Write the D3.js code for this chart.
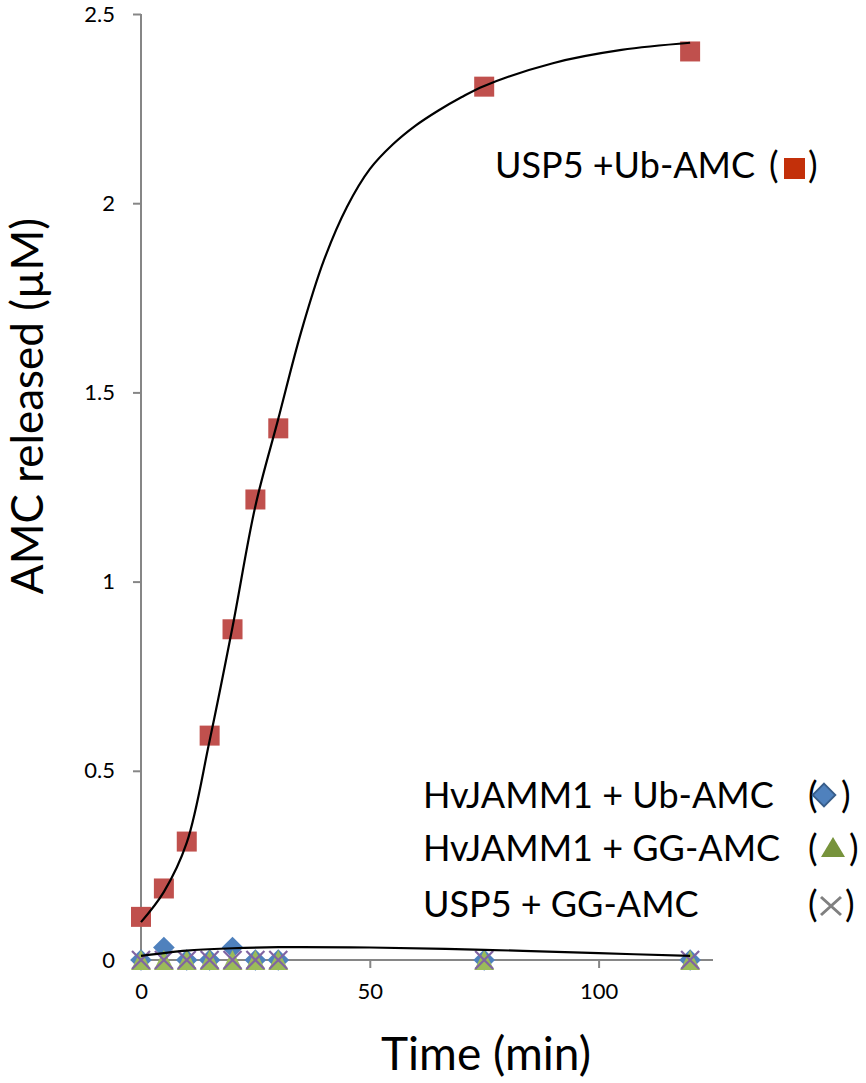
<!DOCTYPE html>
<html><head><meta charset="utf-8">
<script src="https://cdn.jsdelivr.net/npm/d3@7"></script>
<style>body{margin:0;background:#fff;} text{font-family:Lato, "Open Sans", sans-serif;}</style>
</head><body>
<svg id="c" width="866" height="1083"></svg>
<script>
// ---- data ----
const times = [0, 5, 10, 15, 20, 25, 30, 75, 120];
const usp5UbAMC   = [0.114, 0.189, 0.313, 0.593, 0.874, 1.217, 1.405, 2.308, 2.401];
const hvUbAMC     = [0, 0.033, 0, 0, 0.033, 0, 0, 0, 0];
const hvGGAMC     = [0, 0, 0, 0, 0, 0, 0, 0, 0];
const usp5GGAMC   = [0, 0, 0, 0, 0, 0, 0, 0, 0];
// fitted curves
const fitHighT = [0, 5, 10, 15, 20, 25, 30, 35, 40, 45, 50, 55, 60, 65, 70, 75, 90, 105, 120];
const fitHighV = [0.10, 0.18, 0.31, 0.58, 0.88, 1.20, 1.43, 1.66, 1.85, 1.99, 2.09, 2.155, 2.205, 2.245, 2.28, 2.31, 2.37, 2.405, 2.424];
const fitLowT = [0, 10, 20, 30, 50, 75, 100, 120];
const fitLowV = [0.011, 0.025, 0.031, 0.034, 0.033, 0.027, 0.018, 0.011];
const xTicks = [0, 50, 100];
const yTicks = [0, 0.5, 1, 1.5, 2, 2.5];
const yTickLabels = ["0", "0.5", "1", "1.5", "2", "2.5"];
const legendLabels = ["USP5 +Ub-AMC", "HvJAMM1 + Ub-AMC", "HvJAMM1 + GG-AMC", "USP5 + GG-AMC"];

const svg = d3.select("#c");
const x = d3.scaleLinear().domain([0, 125]).range([141, 713]);
const y = d3.scaleLinear().domain([0, 2.5]).range([960, 14]);
const axisCol = "#868686";

// axes
const yAx = svg.append("g").attr("transform", "translate(141,0)")
  .call(d3.axisLeft(y).tickValues(yTicks).tickFormat((d,i)=>yTickLabels[i]).tickSize(8).tickPadding(18));
const xAx = svg.append("g").attr("transform", "translate(0,960)")
  .call(d3.axisBottom(x).tickValues(xTicks).tickSize(8).tickPadding(15));
[yAx, xAx].forEach(g => {
  g.select(".domain").attr("stroke", axisCol).attr("stroke-width", 2);
  g.selectAll(".tick line").attr("stroke", axisCol).attr("stroke-width", 2);
  g.selectAll(".tick text").attr("fill", "#000").style("font-size", "22px").style("font-family", "Lato");
});
xAx.select(".domain").attr("d", `M${x(0)},0H${x(125)}`);
yAx.select(".domain").attr("d", `M0,${y(2.5)}V${y(0)}`);
xAx.selectAll(".tick").filter(d => d === 0).select("line").remove();

// custom triangle symbol (apex up)
const tri = { draw(ctx, size) { const h = Math.sqrt(size) / 2; ctx.moveTo(0, -h); ctx.lineTo(h, h); ctx.lineTo(-h, h); ctx.closePath(); } };

// markers
const pts = arr => times.map((t, i) => ({t, v: arr[i]}));
const mk = svg.append("g");
mk.selectAll(".dia").data(pts(hvUbAMC)).join("path")
  .attr("d", d3.symbol(d3.symbolDiamond2, 300)())
  .attr("transform", d => `translate(${x(d.t)},${y(d.v)})`)
  .attr("fill", "#4F81BD");
mk.selectAll(".tri").data(pts(hvGGAMC)).join("path")
  .attr("d", d3.symbol(tri, 400)())
  .attr("transform", d => `translate(${x(d.t)},${y(d.v)})`)
  .attr("fill", "#9BBB59");
mk.selectAll(".xx").data(pts(usp5GGAMC)).join("path")
  .attr("d", "M-9,-9L9,9M-9,9L9,-9")
  .attr("transform", d => `translate(${x(d.t)},${y(d.v)})`)
  .attr("stroke", "#8064A2").attr("stroke-width", 2.2).attr("fill", "none");
mk.selectAll(".sq").data(pts(usp5UbAMC)).join("rect")
  .attr("x", d => x(d.t) - 10).attr("y", d => y(d.v) - 10)
  .attr("width", 20).attr("height", 20).attr("fill", "#C0504D");

// fit curves
const line = d3.line().x(d => x(d[0])).y(d => y(d[1])).curve(d3.curveCatmullRom.alpha(0.5));
svg.append("path").datum(fitHighT.map((t, i) => [t, fitHighV[i]]))
  .attr("d", line).attr("fill", "none").attr("stroke", "#000").attr("stroke-width", 2.2);
svg.append("path").datum(fitLowT.map((t, i) => [t, fitLowV[i]]))
  .attr("d", line).attr("fill", "none").attr("stroke", "#000").attr("stroke-width", 2.2);

// axis titles
svg.append("text").attr("x", 486).attr("y", 1070).attr("text-anchor", "middle")
  .style("font-size", "46px").text("Time (min)");
svg.append("text").attr("transform", "translate(43,406) rotate(-90)").attr("text-anchor", "middle")
  .style("font-size", "44px").text("AMC released (µM)");

// legend texts
const lf = "36px";
svg.append("text").attr("x", 495).attr("y", 178).style("font-size", lf).text(legendLabels[0]);
svg.append("text").attr("x", 769).attr("y", 178).style("font-size", lf).text("(");
svg.append("rect").attr("x", 784).attr("y", 158).attr("width", 21).attr("height", 21).attr("fill", "#C3300A");
svg.append("text").attr("x", 808).attr("y", 178).style("font-size", lf).text(")");

const rows = [808, 861, 917];
rows.forEach((b, i) => {
  svg.append("text").attr("x", 423).attr("y", b).style("font-size", lf).text(legendLabels[i + 1]);
  svg.append("text").attr("x", 808).attr("y", b).style("font-size", lf).text("(");
});
svg.append("text").attr("x", 841).attr("y", rows[0]).style("font-size", lf).text(")");
svg.append("text").attr("x", 849).attr("y", rows[1]).style("font-size", lf).text(")");
svg.append("text").attr("x", 845).attr("y", rows[2]).style("font-size", lf).text(")");
svg.append("path").attr("d", d3.symbol(d3.symbolDiamond2, 330)())
  .attr("transform", "translate(824,795)").attr("fill", "#4F81BD").attr("stroke", "#385D8A").attr("stroke-width", 1.8);
svg.append("path").attr("d", "M0,-10L12,10L-12,10Z")
  .attr("transform", "translate(833,847)").attr("fill", "#77933C");
svg.append("path").attr("d", "M-10,-9L10,9M-10,9L10,-9")
  .attr("transform", "translate(831,906)").attr("stroke", "#808080").attr("stroke-width", 3).attr("fill", "none");
</script>
</body></html>
